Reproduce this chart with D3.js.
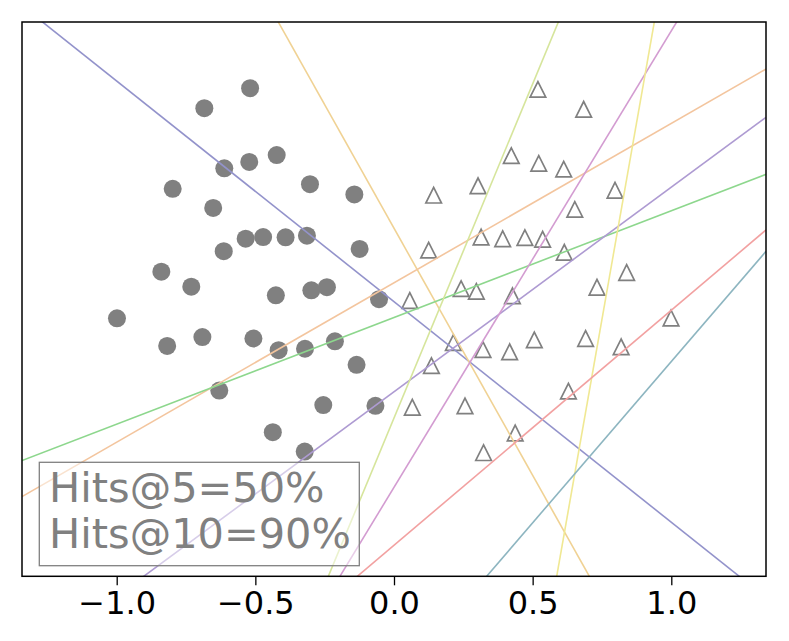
<!DOCTYPE html>
<html>
<head>
<meta charset="utf-8">
<script src="https://cdn.jsdelivr.net/npm/d3@7"></script>
<style>
  html, body { margin: 0; padding: 0; background: #fff; }
  svg { display: block; font-family: "DejaVu Sans", sans-serif; }
</style>
</head>
<body>
<svg id="chart" width="789" height="641"></svg>
<script>
// ---- data ----
const circleX = [-0.519,-0.684,-0.612,-0.522,-0.423,-0.798,-0.303,-0.143,-0.652,-0.535,-0.472,-0.391,-0.314,-0.124,-0.614,-0.839,-0.731,-0.426,-0.298,-0.242,-0.054,-0.999,-0.818,-0.691,-0.507,-0.416,-0.321,-0.213,-0.135,-0.630,-0.255,-0.067,-0.437,-0.322];
const circleY = [0.761,0.689,0.472,0.495,0.520,0.398,0.415,0.378,0.329,0.218,0.224,0.223,0.229,0.181,0.173,0.099,0.045,0.014,0.032,0.043,0.000,-0.069,-0.169,-0.137,-0.142,-0.184,-0.179,-0.152,-0.237,-0.330,-0.382,-0.385,-0.480,-0.550];
const triX = [0.519,0.684,0.423,0.522,0.612,0.143,0.303,0.797,0.652,0.314,0.392,0.472,0.536,0.125,0.614,0.839,0.242,0.297,0.732,0.057,0.427,0.999,0.214,0.321,0.417,0.506,0.691,0.819,0.135,0.629,0.066,0.256,0.437,0.323];
const triY = [0.757,0.685,0.518,0.490,0.469,0.375,0.409,0.393,0.324,0.224,0.218,0.222,0.216,0.177,0.169,0.096,0.038,0.028,0.043,-0.005,0.012,-0.068,-0.157,-0.182,-0.190,-0.147,-0.142,-0.172,-0.240,-0.332,-0.390,-0.385,-0.483,-0.554];
const lineSlopes     = [-0.796, -1.783, 0.575, 0.385, 0.738, 2.411, 1.647, 5.682, 0.848, 1.164];
const lineIntercepts = [-0.009,  0.256, 0.059,-0.066,-0.334,-0.429,-0.679,-4.334,-0.888,-1.389];
const lineColors = ["#9393cb","#f0d294","#f3c59e","#8dd78d","#ae9bd2","#d6e59c","#d39cd1","#f0e893","#f2a1a1","#8db5c0"];
const xTicks = [-1.0, -0.5, 0.0, 0.5, 1.0];
const xDomain = [-1.3415, 1.3415];
const yDomain = [-1.0, 1.0];
const boxLines = ["Hits@5=50%", "Hits@10=90%"];

// ---- layout ----
const L = 22, R = 766, T = 22, B = 576.3;
const svg = d3.select("#chart");
svg.append("rect").attr("width", 789).attr("height", 641).attr("fill", "#fff");

const x = d3.scaleLinear().domain(xDomain).range([L, R]);
const y = d3.scaleLinear().domain(yDomain).range([B, T]);

svg.append("clipPath").attr("id", "clip")
  .append("rect").attr("x", L).attr("y", T).attr("width", R - L).attr("height", B - T);

const plot = svg.append("g").attr("clip-path", "url(#clip)");

// circles
const circles = circleX.map((v, i) => ({x: v, y: circleY[i]}));
plot.selectAll("circle.pt").data(circles).join("circle")
  .attr("class", "pt")
  .attr("cx", d => x(d.x)).attr("cy", d => y(d.y))
  .attr("r", 9).attr("fill", "#808080");

// triangles
const tris = triX.map((v, i) => ({x: v, y: triY[i]}));
const h = 7.8;
plot.selectAll("path.tri").data(tris).join("path")
  .attr("class", "tri")
  .attr("d", d => {
    const cx = x(d.x), cy = y(d.y);
    return `M${cx},${cy - h}L${cx - h},${cy + h}L${cx + h},${cy + h}Z`;
  })
  .attr("fill", "none").attr("stroke", "#808080").attr("stroke-width", 1.7)
  .attr("stroke-linejoin", "miter");

// lines
const lines = lineSlopes.map((m, i) => ({m, b: lineIntercepts[i], c: lineColors[i]}));
plot.selectAll("line.sep").data(lines).join("line")
  .attr("class", "sep")
  .attr("x1", x(xDomain[0])).attr("x2", x(xDomain[1]))
  .attr("y1", d => y(d.m * xDomain[0] + d.b))
  .attr("y2", d => y(d.m * xDomain[1] + d.b))
  .attr("stroke", d => d.c).attr("stroke-width", 1.6);

// x axis
const xAxis = d3.axisBottom(x).tickValues(xTicks)
  .tickFormat(d => d3.format(".1f")(d).replace("-", "\u2212"))
  .tickSize(9).tickPadding(6);
const gx = svg.append("g").attr("transform", `translate(0,${B})`).call(xAxis);
gx.select(".domain").remove();
gx.selectAll(".tick line").attr("stroke", "#000").attr("stroke-width", 1.3);
gx.selectAll(".tick text").attr("font-size", 32).attr("fill", "#000")
  .attr("font-family", "DejaVu Sans");

// frame
svg.append("rect").attr("x", L).attr("y", T).attr("width", R - L).attr("height", B - T)
  .attr("fill", "none").attr("stroke", "#000").attr("stroke-width", 1.5);

// text box
svg.append("rect").attr("x", 39.3).attr("y", 462.3).attr("width", 320).attr("height", 103.4)
  .attr("fill", "#fff").attr("fill-opacity", 0.5)
  .attr("stroke", "#808080").attr("stroke-width", 1.3);
const tb = svg.append("text").attr("font-size", 41.5).attr("fill", "#808080")
  .attr("font-family", "DejaVu Sans");
boxLines.forEach((s, i) => {
  tb.append("tspan").attr("x", 49).attr("y", 501.7 + i * 46.7).text(s);
});
</script>
</body>
</html>
